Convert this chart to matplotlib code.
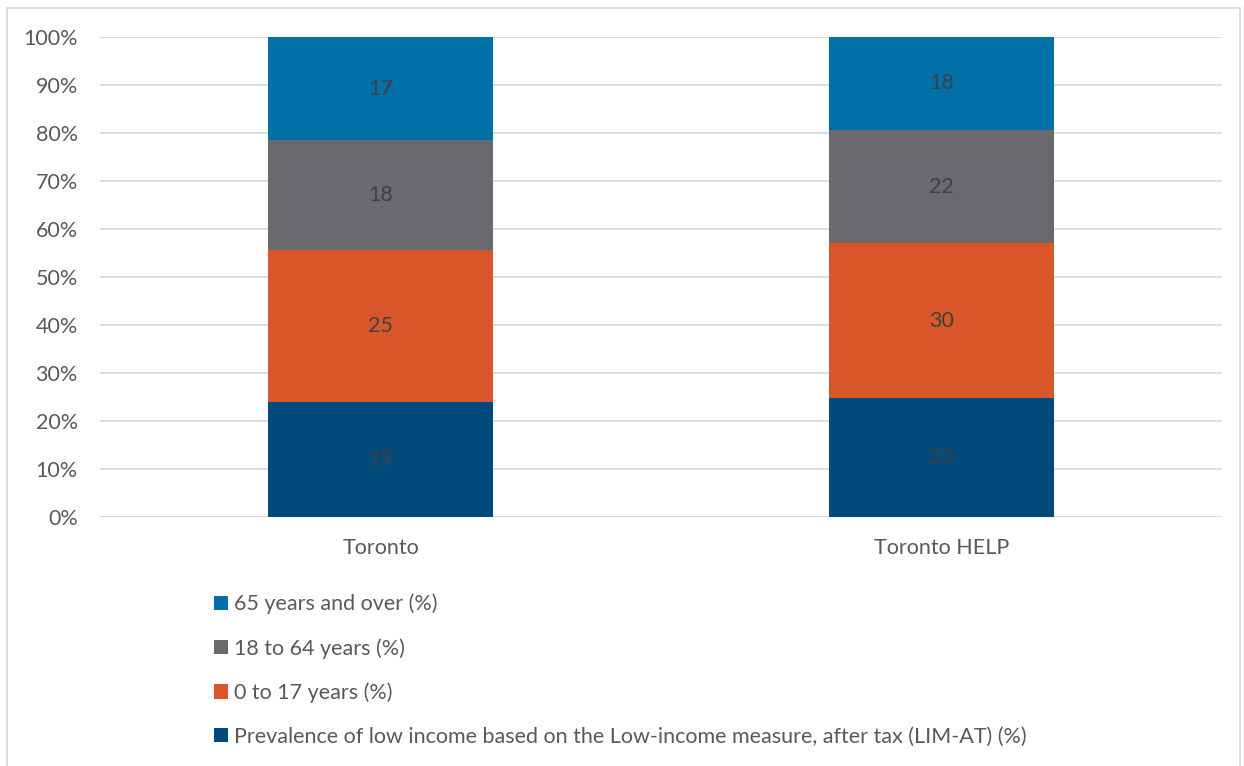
import numpy as np
import matplotlib.pyplot as plt
from matplotlib.patches import Rectangle

plt.rcParams['font.family'] = ['Lato', 'DejaVu Sans']

categories = ['Toronto', 'Toronto HELP']
series_names = [
    'Prevalence of low income based on the Low-income measure, after tax (LIM-AT) (%)',
    '0 to 17 years (%)',
    '18 to 64 years (%)',
    '65 years and over (%)',
]
lim_at = [19, 23]
age_0_17 = [25, 30]
age_18_64 = [18, 22]
age_65_plus = [17, 18]

colors = ['#004B7C', '#D9562A', '#6A6A6E', '#0070A8']
text_color = '#595959'
fs = 15.5

values = np.array([lim_at, age_0_17, age_18_64, age_65_plus], dtype=float)
shares = values / values.sum(axis=0) * 100

fig = plt.figure(figsize=(12.44, 7.66), dpi=100)
ax = fig.add_axes([0.0804, 0.3251, 0.9019, 0.6266])

x = np.arange(len(categories))
bottom = np.zeros(len(categories))
handles = []
for i, name in enumerate(series_names):
    bars = ax.bar(x, shares[i], 0.4, bottom=bottom, color=colors[i], label=name, zorder=3)
    handles.append(bars)
    for xi, b, h, v in zip(x, bottom, shares[i], values[i]):
        ax.text(xi, b + h / 2, f'{v:g}', ha='center', va='center',
                fontsize=fs, color='#404040', zorder=4)
    bottom += shares[i]

ax.set_xlim(-0.5, 1.5)
ax.set_ylim(0, 100)
ax.set_yticks(np.arange(0, 101, 10))
ax.set_yticklabels([f'{t}%' for t in range(0, 101, 10)])
ax.set_xticks(x)
ax.set_xticklabels(categories)
ax.tick_params(axis='both', length=0, labelsize=fs, labelcolor=text_color)
ax.tick_params(axis='y', pad=16)
ax.tick_params(axis='x', pad=15)
ax.grid(axis='y', color='#D9D9D9', linewidth=1.3, zorder=0)
for s in ax.spines.values():
    s.set_visible(False)
ax.axhline(0, color='#D9D9D9', linewidth=1.3, zorder=1)

leg = fig.legend(handles[::-1], series_names[::-1], loc='upper left',
                 bbox_to_anchor=(0.165, 0.236), frameon=False, fontsize=fs,
                 handlelength=0.65, handleheight=0.65, handletextpad=0.3,
                 labelspacing=1.1, borderaxespad=0)
for t in leg.get_texts():
    t.set_color(text_color)

fig.patches.append(Rectangle((7 / 1244, -0.01), 1233 / 1244, 1 - 8 / 766 + 0.01,
                             transform=fig.transFigure, fill=False,
                             edgecolor='#D9D9D9', linewidth=1.3))

fig.savefig('out.png', dpi=100)
